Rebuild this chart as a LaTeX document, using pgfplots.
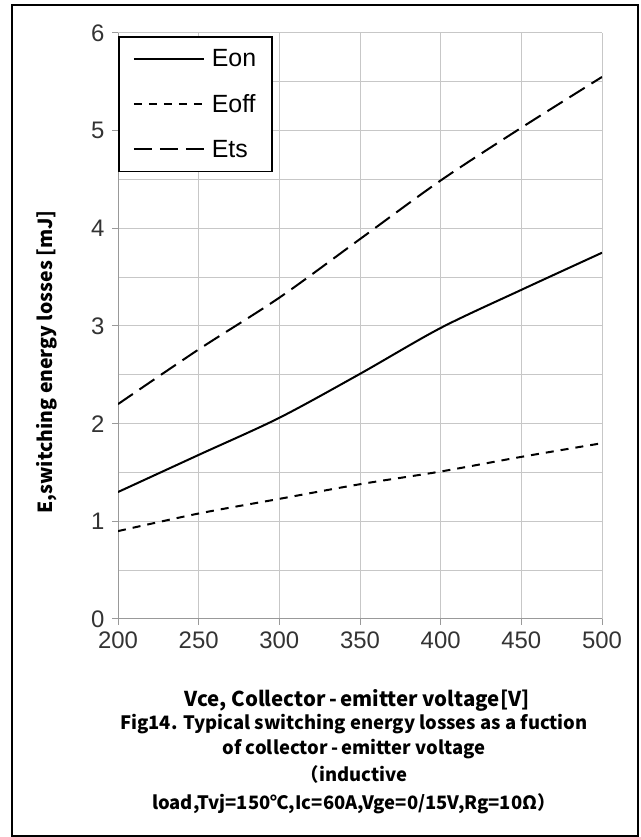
\documentclass[border=0pt]{standalone}
\usepackage{pgfplots}
\pgfplotsset{compat=1.18}
\usepackage{fontspec}
\setmainfont{Liberation Sans}
\newfontfamily\cjk{Noto Sans CJK SC}
\begin{document}
\begin{tikzpicture}[x=1bp,y=1bp]
\path[use as bounding box] (0,0) rectangle (641,837);
\draw[line width=1.3bp,black] (12,1) rectangle (638,832);
\begin{axis}[
  at={(118bp,218bp)}, anchor=origin,
  scale only axis, width=484bp, height=586bp,
  xmin=200, xmax=500, ymin=0, ymax=6,
  xtick={200,250,...,500}, ytick={0,1,...,6},
  minor ytick={0.5,1.5,...,5.5},
  grid=both,
  major grid style={line width=1bp, color=black!22},
  minor grid style={line width=1bp, color=black!22},
  axis lines*=left,
  axis line style={line width=1bp, color=black!40},
  tick align=outside, major tick length=6bp, minor tick length=0bp,
  tick style={line width=1bp, color=black!40},
  /pgf/number format/assume math mode=true,
  ticklabel style={font=\fontsize{24}{24}\selectfont, text=black!80},
  xticklabel style={yshift=-3bp},
  yticklabel style={xshift=-4bp},
  legend style={at={(0,1)}, anchor=north west, yshift=-3bp,
    draw=black, line width=1.6bp, fill=white,
    font=\fontsize{25}{25}\selectfont,
    inner xsep=14bp, inner ysep=11bp,
    row sep=22bp, column sep=5bp,
    cells={anchor=west}},
  legend cell align=left,
  legend image code/.code={\draw[#1, line width=2bp] (0bp,0bp) -- (70bp,0bp);},
]
\addplot[black, line width=2bp, smooth, tension=0.5] coordinates {
(200,1.30) (250,1.68) (300,2.06) (350,2.51) (400,2.98) (450,3.37) (500,3.75)};
\addlegendentry{Eon}
\addplot[black, line width=2bp, smooth, tension=0.5, dash pattern=on 8bp off 7bp] coordinates {
(200,0.90) (250,1.08) (300,1.23) (350,1.38) (400,1.51) (450,1.66) (500,1.80)};
\addlegendentry{Eoff}
\addplot[black, line width=2bp, smooth, tension=0.5, dash pattern=on 18bp off 8bp] coordinates {
(200,2.20) (250,2.76) (300,3.29) (350,3.89) (400,4.49) (450,5.03) (500,5.55)};
\addlegendentry{Ets}
\end{axis}
\node[rotate=90, font=\cjk\bfseries\fontsize{19.5}{19.5}\selectfont] at (47,475) {E,switching energy losses [mJ]};
\node[anchor=base, font=\cjk\bfseries\fontsize{20.5}{20.5}\selectfont] at (357,130) {Vce, Collector\,-\,emitter voltage[V]};
\begin{scope}[every node/.style={anchor=base, font=\cjk\bfseries\fontsize{18.5}{18.5}\selectfont}]
\node at (354,107) {Fig14. Typical switching energy losses as a fuction};
\node at (354,82) {of collector\,-\,emitter voltage};
\node at (354,55) {（inductive};
\node at (354,27) {load,Tvj=150℃,Ic=60A,Vge=0/15V,Rg=10Ω）};
\end{scope}
\end{tikzpicture}
\end{document}
